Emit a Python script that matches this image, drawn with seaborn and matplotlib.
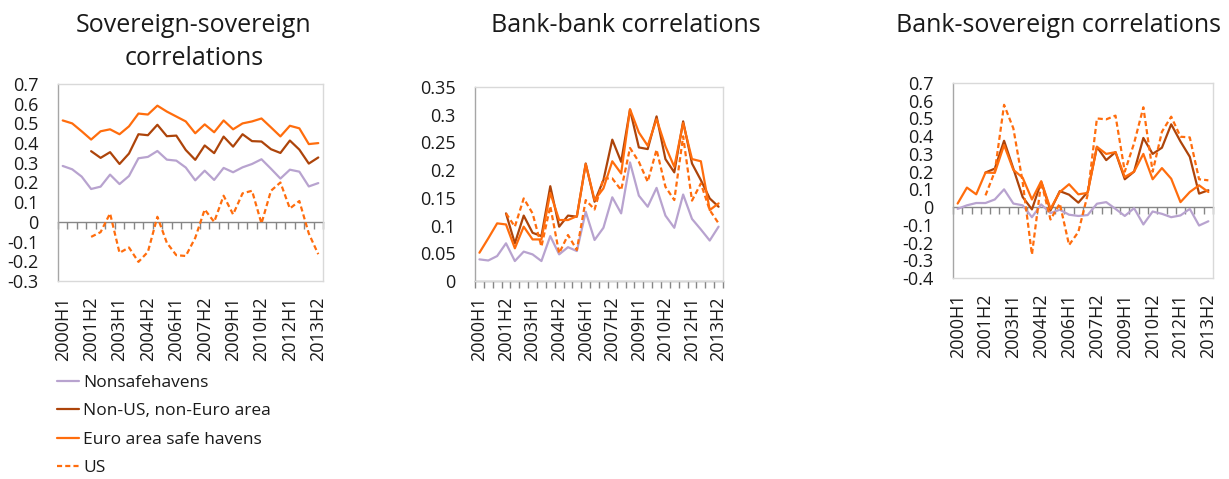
import numpy as np
import pandas as pd
import matplotlib
matplotlib.use("Agg")
import matplotlib.pyplot as plt
from matplotlib.ticker import FixedLocator
from matplotlib.lines import Line2D
import seaborn as sns

nan = np.nan

periods = [
    "2000H1", "2000H2", "2001H1", "2001H2", "2002H1", "2002H2", "2003H1",
    "2003H2", "2004H1", "2004H2", "2005H1", "2005H2", "2006H1", "2006H2",
    "2007H1", "2007H2", "2008H1", "2008H2", "2009H1", "2009H2", "2010H1",
    "2010H2", "2011H1", "2011H2", "2012H1", "2012H2", "2013H1", "2013H2",
]

series_names = ["Nonsafehavens", "Non-US, non-Euro area", "Euro area safe havens", "US"]

# Sovereign-sovereign correlations
ss_nonsafe = [0.284, 0.267, 0.230, 0.167, 0.179, 0.240, 0.192, 0.233, 0.323, 0.330,
              0.360, 0.316, 0.311, 0.276, 0.211, 0.260, 0.213, 0.274, 0.252, 0.277,
              0.294, 0.318, 0.270, 0.220, 0.265, 0.255, 0.180, 0.197]
ss_nonus = [nan, nan, nan, 0.359, 0.325, 0.354, 0.294, 0.347, 0.445, 0.440,
            0.493, 0.435, 0.438, 0.365, 0.315, 0.388, 0.349, 0.433, 0.382, 0.445,
            0.410, 0.408, 0.369, 0.350, 0.413, 0.367, 0.296, 0.327]
ss_euro = [0.515, 0.500, 0.460, 0.418, 0.460, 0.470, 0.445, 0.485, 0.550, 0.545,
           0.590, 0.560, 0.535, 0.510, 0.450, 0.495, 0.455, 0.515, 0.470, 0.500,
           0.510, 0.525, 0.480, 0.434, 0.488, 0.475, 0.395, 0.400]
ss_us = [nan, nan, nan, -0.076, -0.052, 0.043, -0.157, -0.130, -0.203, -0.152,
         0.026, -0.106, -0.169, -0.173, -0.081, 0.063, 0.000, 0.133, 0.038, 0.145,
         0.158, -0.008, 0.158, 0.200, 0.068, 0.106, -0.059, -0.164]

# Bank-bank correlations
bb_nonsafe = [0.039, 0.037, 0.045, 0.068, 0.036, 0.053, 0.048, 0.036, 0.081, 0.048,
              0.061, 0.054, 0.125, 0.074, 0.096, 0.151, 0.122, 0.214, 0.154, 0.134,
              0.168, 0.118, 0.096, 0.156, 0.112, 0.093, 0.073, 0.098]
bb_nonus = [nan, nan, nan, 0.122, 0.068, 0.118, 0.087, 0.081, 0.171, 0.098,
            0.118, 0.116, 0.212, 0.143, 0.182, 0.255, 0.215, 0.309, 0.241, 0.238,
            0.297, 0.220, 0.196, 0.288, 0.212, 0.182, 0.149, 0.134]
bb_euro = [0.051, 0.077, 0.104, 0.102, 0.059, 0.098, 0.075, 0.075, 0.159, 0.110,
           0.110, 0.117, 0.211, 0.146, 0.167, 0.216, 0.194, 0.310, 0.268, 0.244,
           0.292, 0.243, 0.206, 0.285, 0.220, 0.216, 0.128, 0.140]
bb_us = [nan, nan, nan, 0.122, 0.098, 0.149, 0.122, 0.062, 0.135, 0.050,
         0.083, 0.056, 0.146, 0.129, 0.185, 0.185, 0.164, 0.240, 0.215, 0.179,
         0.237, 0.170, 0.146, 0.261, 0.145, 0.176, 0.128, 0.104]

# Bank-sovereign correlations
bs_nonsafe = [-0.010, 0.010, 0.023, 0.023, 0.043, 0.100, 0.020, 0.010, -0.057, 0.015,
              -0.034, -0.015, -0.043, -0.050, -0.045, 0.019, 0.028, -0.010, -0.050, -0.006,
              -0.098, -0.025, -0.038, -0.057, -0.047, -0.010, -0.104, -0.080]
bs_nonus = [nan, nan, nan, 0.195, 0.217, 0.374, 0.217, 0.057, -0.013, 0.142,
            -0.019, 0.090, 0.070, 0.025, 0.085, 0.340, 0.265, 0.310, 0.157, 0.200,
            0.390, 0.300, 0.335, 0.467, 0.370, 0.284, 0.076, 0.095]
bs_euro = [0.020, 0.110, 0.072, 0.195, 0.193, 0.350, 0.210, 0.166, 0.043, 0.146,
           -0.010, 0.085, 0.129, 0.072, 0.080, 0.340, 0.300, 0.310, 0.170, 0.200,
           0.300, 0.157, 0.220, 0.160, 0.028, 0.085, 0.123, 0.085]
bs_us = [nan, nan, nan, 0.066, 0.200, 0.577, 0.444, 0.142, -0.268, 0.142,
         -0.070, 0.020, -0.214, -0.140, 0.070, 0.500, 0.495, 0.516, 0.200, 0.360,
         0.563, 0.200, 0.425, 0.510, 0.397, 0.393, 0.157, 0.151]

palette = {
    "Nonsafehavens": "#b8a3cf",
    "Non-US, non-Euro area": "#ad440a",
    "Euro area safe havens": "#ff6d0d",
    "US": "#ff6d0d",
}
dash_styles = {
    "Nonsafehavens": "",
    "Non-US, non-Euro area": "",
    "Euro area safe havens": "",
    "US": (2.3, 1.4),
}
LW = 1.6

sns.set_style("white")
plt.rcParams["font.family"] = ["Open Sans", "DejaVu Sans"]
plt.rcParams["axes.unicode_minus"] = False

W, H = 1229, 479
fig = plt.figure(figsize=(W / 100, H / 100), dpi=100)


def long_frame(columns):
    parts = []
    for name, vals in zip(series_names, columns):
        parts.append(pd.DataFrame({"x": np.arange(len(periods)), "value": vals, "series": name}))
    return pd.concat(parts, ignore_index=True).dropna()


def fmt(v):
    v = round(v, 2) + 0.0
    return f"{v:g}"


panels = [
    dict(title=["Sovereign-sovereign", "correlations"], cols=[ss_nonsafe, ss_nonus, ss_euro, ss_us],
         ylim=(-0.3, 0.7), step=0.1, box=(58, 84, 323, 281), tx=194),
    dict(title=["Bank-bank correlations"], cols=[bb_nonsafe, bb_nonus, bb_euro, bb_us],
         ylim=(0.0, 0.35), step=0.05, box=(475, 87, 723, 281), tx=626),
    dict(title=["Bank-sovereign correlations"], cols=[bs_nonsafe, bs_nonus, bs_euro, bs_us],
         ylim=(-0.4, 0.7), step=0.1, box=(953, 83, 1213, 278), tx=1059),
]

n = len(periods)
for p in panels:
    x0, y0, x1, y1 = p["box"]
    ax = fig.add_axes([x0 / W, 1 - y1 / H, (x1 - x0) / W, (y1 - y0) / H])
    df = long_frame(p["cols"])
    sns.lineplot(data=df, x="x", y="value", hue="series", style="series",
                 hue_order=series_names, style_order=series_names,
                 palette=palette, dashes=dash_styles, linewidth=LW,
                 sort=False, legend=False, ax=ax)

    lo, hi = p["ylim"]
    ax.set_ylim(lo, hi)
    ax.set_xlim(-0.5, n - 0.5)
    yt = np.round(np.arange(lo, hi + p["step"] / 2, p["step"]), 2)
    ax.set_yticks(yt)
    ax.set_yticklabels([fmt(v) for v in yt])
    xt = list(range(0, n, 3))
    ax.set_xticks(xt)
    ax.set_xticklabels([periods[i] for i in xt], rotation=90)
    ax.set_xlabel("")
    ax.set_ylabel("")
    ax.tick_params(axis="x", length=0, pad=11, labelsize=13, labelcolor="#1a1a1a")
    ax.tick_params(axis="y", length=3, width=1, direction="out", color="#a6a6a6",
                   pad=11, labelsize=13, labelcolor="#1a1a1a")
    for s in ax.spines.values():
        s.set_color("#d9d9d9")
        s.set_linewidth(1)
    ax.spines["left"].set_color("#a6a6a6")

    # horizontal category axis crossing at zero, with marks between categories
    loc = (0 - lo) / (hi - lo)
    sec = ax.secondary_xaxis(loc)
    sec.set_xticks([])
    sec.xaxis.set_minor_locator(FixedLocator(np.arange(-0.5, n, 1.0)))
    sec.tick_params(which="minor", length=5, width=1, color="#868686", direction="out")
    sec.tick_params(which="major", length=0, labelbottom=False)
    for s in sec.spines.values():
        s.set_color("#868686")
        s.set_linewidth(1)

    for k, line in enumerate(p["title"]):
        fig.text(p["tx"] / W, 1 - (31.5 + 33.3 * k) / H, line, ha="center",
                 va="baseline", fontsize=18, color="#1a1a1a")

handles = []
for s in series_names:
    h = Line2D([], [], color=palette[s], linewidth=LW)
    if dash_styles[s]:
        h.set_dashes(dash_styles[s])
    handles.append(h)
fig.legend(handles=handles, labels=series_names, loc="upper left",
           bbox_to_anchor=(57 / W, 1 - 375 / H), frameon=False, fontsize=12.5,
           handlelength=1.25, handletextpad=0.25, labelspacing=0.7,
           borderpad=0, borderaxespad=0, labelcolor="#1a1a1a")

fig.savefig("out.png", dpi=100)
